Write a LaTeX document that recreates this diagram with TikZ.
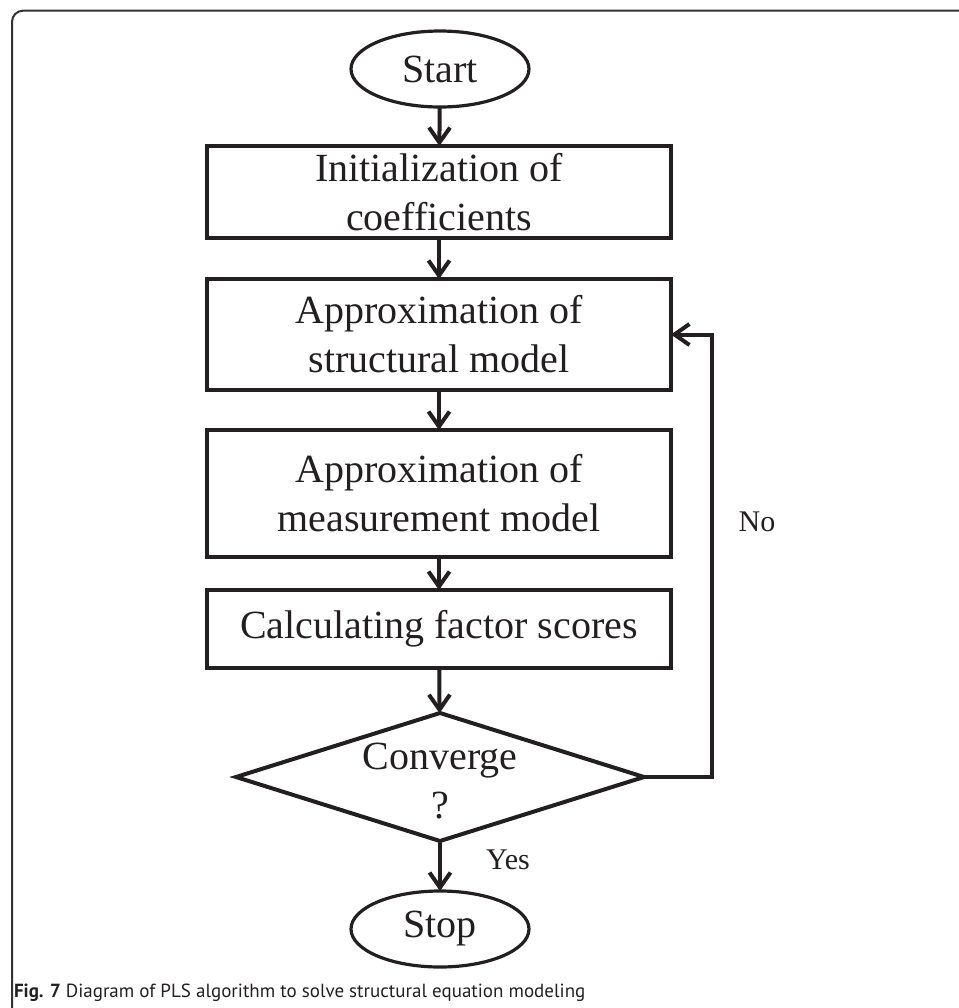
\documentclass[tikz,border=0pt]{standalone}
\usepackage{fontspec}
\setmainfont{Liberation Serif}
\newfontfamily\capfont{PT Sans}
\usetikzlibrary{shapes.geometric,arrows.meta}
\definecolor{ink}{RGB}{35,31,32}
\definecolor{framec}{RGB}{50,50,50}
\begin{document}
\begin{tikzpicture}[x=0.5pt,y=-0.5pt,
  every node/.style={inner sep=0pt, outer sep=0pt, text=ink},
  term/.style={ellipse, draw=ink, line width=1.6pt, minimum width=89pt, minimum height=38pt, font=\fontsize{20}{24}\selectfont},
  proc/.style={rectangle, draw=ink, line width=2pt, minimum width=232pt, align=center, font=\fontsize{20}{24.5}\selectfont},
  dec/.style={diamond, draw=ink, line width=2pt, minimum width=204pt, minimum height=64pt},
  dectext/.style={align=center, font=\fontsize{20}{24.5}\selectfont},
  flow/.style={draw=ink, line width=2pt, -{Straight Barb[length=7.5pt,width=10.5pt,line width=2pt]}},
  lbl/.style={font=\fontsize{15}{18}\selectfont},
  frameline/.style={draw=framec, line width=1pt, rounded corners=5.5pt}]
\useasboundingbox (0,0) rectangle (959,1008);
\draw[frameline] (12,1012) |- (962,10.7);
\node[term] (start) at (440,69) {Start};
\node[proc, minimum height=46pt] (b1) at (439,192) {Initialization of\\coefficients};
\node[proc, minimum height=55.5pt] (b2) at (439,334.5) {Approximation of\\structural model};
\node[proc, minimum height=63.5pt] (b3) at (439,493.5) {Approximation of\\measurement model};
\node[proc, minimum height=39pt] (b4) at (439,629) {Calculating factor scores};
\node[dec] (dia) at (440,777) {};
\node[dectext] (diat) at (440,781) {Converge\\?};
\node[term] (stop) at (440,929) {Stop};
\coordinate (fb) at (712,777);
\node[lbl] (no) at (757,522) {No};
\node[lbl] (yes) at (508,860) {Yes};
\draw[flow] (start) -- (b1);
\draw[flow] (b1) -- (b2);
\draw[flow] (b2) -- (b3);
\draw[flow] (b3) -- (b4);
\draw[flow] (b4) -- (dia);
\draw[flow] (dia) -- (stop);
\draw[flow] (dia.east) -- (fb) |- (b2.east);
\node[anchor=base west, font=\capfont\fontsize{9.5}{11}\selectfont] (cap) at (14,997) {\textbf{Fig. 7} Diagram of PLS algorithm to solve structural equation modeling};
\end{tikzpicture}
\end{document}
